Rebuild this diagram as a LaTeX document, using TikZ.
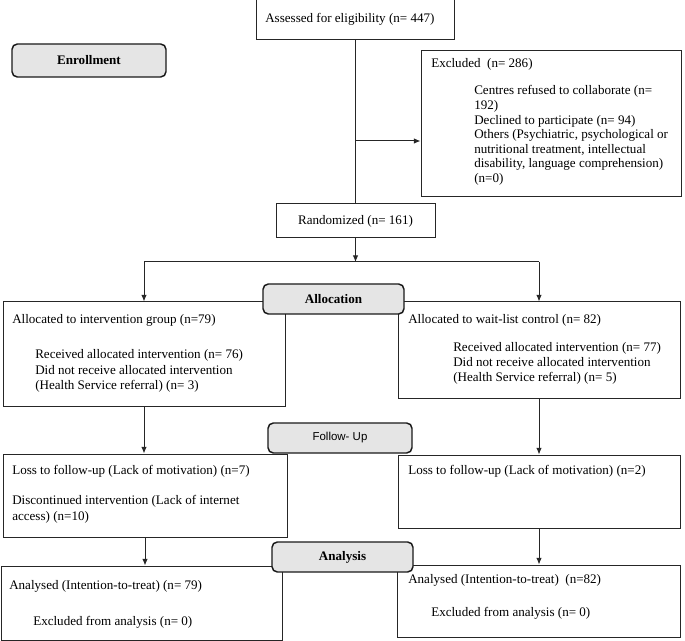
\documentclass[tikz,border=0pt]{standalone}
\usepackage{fontspec}
\setmainfont{Liberation Serif}
\newfontfamily\labelsans{Liberation Sans}
\usetikzlibrary{arrows.meta,fit}

\tikzset{
    box/.style={draw=black!85, line width=0.75pt, inner sep=0pt},
    stage/.style={box, draw=black!90, line width=1.1pt, rounded corners=4pt, fill=black!10},
    txt/.style={anchor=west, inner sep=0pt, font=\fontsize{9.8}{11}\selectfont},
    txtblock/.style={anchor=north west, inner sep=0pt, align=left, font=\fontsize{9.8}{11.5}\selectfont},
    stagetxt/.style={anchor=center, inner sep=0pt, font=\bfseries\fontsize{9.8}{11}\selectfont},
    conn/.style={draw=black!85, line width=0.75pt},
    arr/.style={conn, -{Latex[length=5pt,width=4.2pt]}}
}

\begin{document}
\begin{tikzpicture}[x=0.75pt, y=-0.75pt]
    \useasboundingbox (0,0) rectangle (685,641);

    % boxes
    \node[box, fit={(256,0) (454,40)}] (assess) {};
    \node[box, fit={(421,51) (681,197)}] (excl) {};
    \node[box, fit={(276,204) (435,238)}] (rand) {};
    \node[box, fit={(3,302) (285,406)}] (int) {};
    \node[box, fit={(398,302) (680,398)}] (wait) {};
    \node[box, fit={(3,454) (287,537)}] (intFU) {};
    \node[box, fit={(398,455) (680,528)}] (waitFU) {};
    \node[box, fit={(1,566) (282,640)}] (intAn) {};
    \node[box, fit={(397,565) (680,637)}] (waitAn) {};

    % texts
    \node[txt] (assessT) at (265,19) {Assessed for eligibility (n= 447)};
    \node[txt] (exclT) at (431,64) {Excluded~ (n= 286)};
    \node[txtblock, font=\fontsize{9.8}{10.9}\selectfont] (exclL) at (474,85.5) {Centres refused to collaborate (n=\\192)\\Declined to participate (n= 94)\\Others (Psychiatric, psychological or\\nutritional treatment, intellectual\\disability, language comprehension)\\(n=0)};
    \node[txt, anchor=center] (randT) at (rand.center) {Randomized (n= 161)};
    \node[txt] (intT) at (12,320) {Allocated to intervention group (n=79)};
    \node[txtblock] (intL) at (35,349.5) {Received allocated intervention (n= 76)\\Did not receive allocated intervention\\(Health Service referral) (n= 3)};
    \node[txt] (waitT) at (408,320) {Allocated to wait-list control (n= 82)};
    \node[txtblock, font=\fontsize{9.8}{11.25}\selectfont] (waitL) at (453,342.5) {Received allocated intervention (n= 77)\\Did not receive allocated intervention\\(Health Service referral) (n= 5)};
    \node[txt] (intFUT) at (12,471) {Loss to follow-up (Lack of motivation) (n=7)};
    \node[txtblock, font=\fontsize{9.8}{12}\selectfont] (intFUL) at (12,495) {Discontinued intervention (Lack of internet\\access) (n=10)};
    \node[txt] (waitFUT) at (408,471) {Loss to follow-up (Lack of motivation) (n=2)};
    \node[txt] (intAnT) at (9,586) {Analysed (Intention-to-treat) (n= 79)};
    \node[txt] (intAnL) at (33,622) {Excluded from analysis (n= 0)};
    \node[txt] (waitAnT) at (408,580) {Analysed (Intention-to-treat)~ (n=82)};
    \node[txt] (waitAnL) at (431,613) {Excluded from analysis (n= 0)};

    % connectors
    \coordinate (exclIn) at (355,141);
    \coordinate (split) at (355,262);
    \draw[conn] (assess.south) -- (assess.south |- rand.north);
    \draw[arr] (exclIn) -- (exclIn -| excl.west);
    \draw[arr] (rand.south) -- (rand.south |- split);
    \draw[arr] (wait.north |- split) -- (int.north |- split) -- (int.north);
    \draw[arr] (wait.north |- split) -- (wait.north);
    \draw[arr] (int.south) -- (int.south |- intFU.north);
    \draw[arr] (wait.south) -- (wait.south |- waitFU.north);
    \draw[arr] (intFU.south) -- (intFU.south |- intAn.north);
    \draw[arr] (waitFU.south) -- (waitFU.south |- waitAn.north);

    % stage labels
    \node[stage, fit={(12,44) (166,77)}] (enrol) {};
    \node[stagetxt] (enrolT) at (enrol.center) {Enrollment};
    \node[stage, fit={(263,284) (404,314)}] (alloc) {};
    \node[stagetxt] (allocT) at (alloc.center) {Allocation};
    \node[stage, fit={(268,423) (412,453)}] (follow) {};
    \node[stagetxt, font=\labelsans\fontsize{8.6}{10}\selectfont] (followT) at (follow.center) {Follow- Up};
    \node[stage, fit={(272,542) (413,572)}] (analys) {};
    \node[stagetxt] (analysT) at (analys.center) {Analysis};
\end{tikzpicture}
\end{document}
